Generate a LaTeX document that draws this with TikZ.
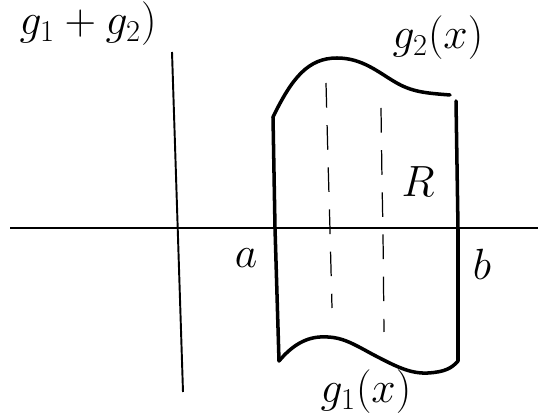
\documentclass[tikz,border=0pt]{standalone}
\usepackage{amsmath,amssymb}
\usepackage{tikz}
\usetikzlibrary{calc}

\tikzset{
  axis/.style={line width=1.1pt},
  bound/.style={line width=2pt, line cap=round},
  slice/.style={line width=0.7pt, dash pattern=on 14pt off 10pt},
  hand/.style={font=\fontsize{27}{32}\selectfont, inner sep=1pt}
}

\begin{document}
\begin{tikzpicture}[x={(0.02cm,0)}, y={(0,-0.02cm)}]

\useasboundingbox (0,0) rectangle (538,418);

% axes
\coordinate (xl) at (10,228);
\coordinate (xr) at (538,228);
\coordinate (yt) at (172,52);
\coordinate (yb) at (183,392);
\draw[axis] (xl) -- (xr);
\draw[axis] (yt) -- (yb);

% corners of the region
\coordinate (atop) at (273,117);
\coordinate (abot) at (279,361);
\coordinate (btop) at (456,101);
\coordinate (bbot) at (458,361);

% sides x=a and x=b
\draw[bound] (atop) -- (275,228) -- (abot);
\draw[bound] (btop) -- (458,228) -- (bbot);

% top curve g_2
\draw[bound] (atop) .. controls (292,78) and (308,58) .. (337,58)
  .. controls (362,58) and (378,72) .. (395,82)
  .. controls (412,92) and (425,93) .. (450,95);

% bottom curve g_1
\draw[bound] (abot) .. controls (290,348) and (303,338) .. (320,337)
  .. controls (340,336) and (350,342) .. (372,354)
  .. controls (395,366) and (410,374) .. (428,373)
  .. controls (445,372) and (452,368) .. (bbot);

% slices
\draw[slice] (326,83) -- (328,160) -- (330,230) -- (332,308);
\draw[slice] (381,108) -- (382,180) -- (383,233) -- (384,332);

% labels
\node[hand] (top) at (88,24) {$g_1 + g_2)$};
\node[hand] (gtwo) at (438,38) {$g_2(x)$};
\node[hand] (reg) at (418,182) {$R$};
\node[hand] (lbla) at (246,258) {$a$};
\node[hand] (lblb) at (482,264) {$b$};
\node[hand] (gone) at (366,392) {$g_1(x)$};

\end{tikzpicture}
\end{document}
